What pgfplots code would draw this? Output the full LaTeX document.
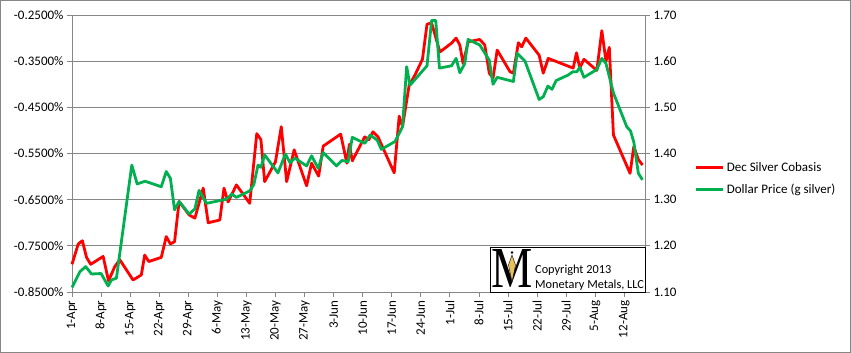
\documentclass[border=0pt]{standalone}
\usepackage{pgfplots}
\pgfplotsset{compat=1.18}
\usepackage{fontspec}
\setmainfont{Carlito}
\newfontfamily\logofont{Liberation Serif}
\definecolor{axgray}{HTML}{868686}
\definecolor{cbred}{HTML}{FF0000}
\definecolor{dpgreen}{HTML}{00B050}
\definecolor{logogold}{HTML}{E8C15A}

\pgfplotsset{
  commonstyle/.style={
    at={(72bp,61bp)}, anchor=south west,
    scale only axis, width=573bp, height=277bp,
    xmin=0, xmax=138,
    tick align=outside, major tick length=5bp,
    axis line style={draw=axgray, line width=0.8bp},
    every tick/.style={draw=axgray, line width=0.8bp},
    tick label style={font=\fontsize{13bp}{15bp}\selectfont, text=black},
    clip=false,
  }
}

\begin{document}
\begin{tikzpicture}
\useasboundingbox (0,0) rectangle (851bp,353bp);

\begin{axis}[commonstyle,
  axis y line*=left, axis x line*=bottom,
  ymin=-0.85, ymax=-0.25,
  ytick={-0.85,-0.75,-0.65,-0.55,-0.45,-0.35,-0.25},
  yticklabels={-0.8500\%,-0.7500\%,-0.6500\%,-0.5500\%,-0.4500\%,-0.3500\%,-0.2500\%},
  ymajorgrids, major grid style={draw=axgray, line width=0.8bp},
  xtick={0,7,...,133},
  xticklabels={1-Apr,8-Apr,15-Apr,22-Apr,29-Apr,6-May,13-May,20-May,27-May,3-Jun,10-Jun,17-Jun,24-Jun,1-Jul,8-Jul,15-Jul,22-Jul,29-Jul,5-Aug,12-Aug},
  x tick label style={rotate=90, anchor=east},
]
\addplot[cbred, line width=2.8bp, line join=round] coordinates {
(0,-0.790) (1.5,-0.746) (2.5,-0.739) (3.5,-0.775) (4.5,-0.790)
(7.5,-0.773) (8.8,-0.826) (10.3,-0.795) (11.5,-0.780) (14.7,-0.824)
(16.7,-0.813) (17.5,-0.770) (18.5,-0.784) (21.5,-0.775) (22.7,-0.730)
(23.7,-0.746) (24.7,-0.741) (25.8,-0.654) (28.2,-0.683) (29.6,-0.690)
(31.6,-0.625) (32.8,-0.700) (35.6,-0.694) (36.6,-0.625) (37.6,-0.655)
(39.6,-0.618) (42.8,-0.658) (44.5,-0.507) (45.5,-0.520) (46.4,-0.611)
(49.0,-0.568) (50.4,-0.492) (51.7,-0.611) (53.5,-0.542) (56.5,-0.620)
(57.7,-0.571) (59.4,-0.599) (60.5,-0.534) (64.7,-0.508) (66.2,-0.571)
(66.8,-0.530) (67.5,-0.566) (70.5,-0.514) (71.5,-0.520) (72.5,-0.503)
(73.7,-0.514) (77.6,-0.592) (78.8,-0.469) (79.6,-0.492) (81.2,-0.402)
(82.6,-0.380) (84.4,-0.346) (85.5,-0.270) (86.6,-0.267) (88.6,-0.330)
(91.4,-0.311) (92.5,-0.300) (93.4,-0.315) (94.2,-0.355) (95.4,-0.308)
(98.2,-0.303) (99.4,-0.315) (100.5,-0.376) (101.4,-0.387) (102.4,-0.326)
(105.5,-0.373) (106.3,-0.376) (107.5,-0.310) (108.3,-0.319) (109.3,-0.300)
(112.5,-0.337) (113.5,-0.376) (114.7,-0.344) (120.7,-0.365) (121.5,-0.332)
(122.3,-0.365) (123.3,-0.346) (126.4,-0.370) (127.6,-0.284) (128.6,-0.350)
(129.4,-0.320) (130.4,-0.510) (134.4,-0.593) (135.3,-0.535) (136.4,-0.563)
(137.4,-0.575)
};
\end{axis}

\begin{axis}[commonstyle,
  axis y line*=right, axis x line=none,
  ymin=1.1, ymax=1.7,
  ytick={1.1,1.2,1.3,1.4,1.5,1.6,1.7},
  yticklabels={1.10,1.20,1.30,1.40,1.50,1.60,1.70},
  legend style={at={(1.087,0.41)}, anchor=west, draw=none, fill=none,
    font=\fontsize{13bp}{15bp}\selectfont, row sep=7bp, inner sep=0pt},
  legend cell align=left,
  legend image code/.code={\draw[#1] (0bp,0bp) -- (27bp,0bp);},
]
\addlegendimage{cbred, line width=2.8bp}
\addlegendentry{Dec Silver Cobasis}
\addplot[dpgreen, line width=2.8bp, line join=round] coordinates {
(0,1.110) (1.9,1.144) (3.3,1.155) (4.7,1.139) (7.0,1.140)
(8.7,1.113) (9.5,1.126) (10.7,1.130) (14.4,1.375) (15.7,1.334)
(17.6,1.340) (21.5,1.328) (22.7,1.361) (23.7,1.346) (24.7,1.278)
(25.8,1.296) (28.2,1.269) (29.6,1.280) (30.6,1.320) (32.4,1.292)
(37.2,1.301) (38.5,1.312) (39.6,1.305) (42.8,1.319) (43.8,1.333)
(44.8,1.375) (45.5,1.370) (46.4,1.397) (49.6,1.358) (51.4,1.399)
(52.5,1.380) (53.7,1.390) (56.5,1.373) (57.7,1.395) (59.3,1.368)
(60.5,1.402) (63.7,1.373) (65.0,1.385) (66.5,1.382) (67.5,1.435)
(70.5,1.422) (71.8,1.440) (73.5,1.429) (74.5,1.409) (77.8,1.426)
(79.6,1.458) (80.6,1.588) (81.4,1.548) (85.5,1.590) (86.6,1.688)
(87.6,1.688) (88.5,1.585) (91.4,1.590) (92.5,1.606) (93.4,1.575)
(94.6,1.595) (95.4,1.647) (98.2,1.635) (100.5,1.602) (101.4,1.550)
(102.4,1.565) (106.3,1.556) (107.2,1.617) (109.1,1.600) (112.5,1.517)
(113.5,1.523) (114.6,1.546) (115.6,1.539) (116.6,1.558) (119.5,1.570)
(120.6,1.577) (121.6,1.577) (122.3,1.587) (123.3,1.565) (126.4,1.582)
(127.6,1.606) (128.6,1.595) (130.4,1.531) (133.6,1.458) (134.5,1.449)
(135.3,1.425) (136.4,1.357) (137.4,1.343)
};
\addlegendentry{Dollar Price (g silver)}
\end{axis}

% logo box
\draw[black, line width=0.9bp, fill=white] (490.7bp,61bp) rectangle (645bp,105.7bp);
\node[font=\logofont\fontsize{58bp}{58bp}\selectfont, xscale=0.8, inner sep=0pt, anchor=base] at (512bp,65bp) {M};
\fill[logogold, draw=black, line width=0.4bp] (512bp,98bp) -- (515.5bp,88bp) -- (512bp,71bp) -- (508.5bp,88bp) -- cycle;
\fill[black] (512bp,100.5bp) circle (1.4bp);
\node[font=\fontsize{12.3bp}{14bp}\selectfont, anchor=base west, inner sep=0pt] at (535bp,79bp) {Copyright 2013};
\node[font=\fontsize{12.3bp}{14bp}\selectfont, anchor=base west, inner sep=0pt] at (535bp,64bp) {Monetary Metals, LLC};

% outer border
\draw[axgray, line width=0.9bp] (0.5bp,0.5bp) rectangle (850.5bp,352.5bp);
\end{tikzpicture}
\end{document}
